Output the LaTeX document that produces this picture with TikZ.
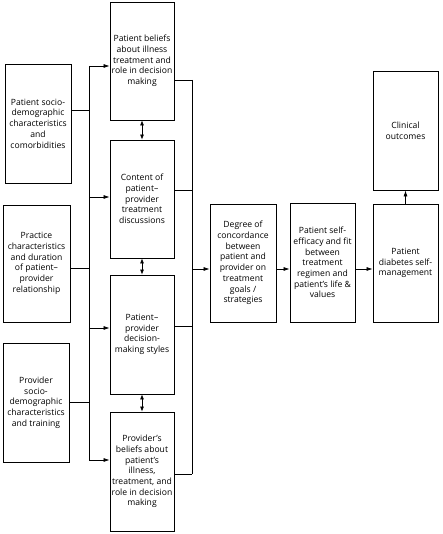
\documentclass[tikz,border=0pt]{standalone}
\usepackage{fontspec}
\setmainfont{Open Sans}
\usetikzlibrary{arrows.meta}

\begin{document}
\begin{tikzpicture}[x=1pt,y=-1pt,
	box/.style={draw,line width=0.8pt,align=center,inner sep=0pt,minimum width=65pt,minimum height=118pt,font=\fontsize{8.6}{10.7}\selectfont},
	wire/.style={line width=0.7pt},
	arr/.style={wire,-{Latex[length=6pt,width=4pt]}},
	darr/.style={wire,{Latex[length=5pt,width=4pt]}-{Latex[length=5pt,width=4pt]}}]
	\useasboundingbox (0,0) rectangle (442,534);
	\node[box,minimum width=66pt,minimum height=119pt] (L1) at (38,123.5) {Patient socio-\\demographic\\characteristics\\and\\comorbidities};
	\node[box,minimum width=67pt,minimum height=117pt] (L2) at (36.5,263.5) {Practice\\characteristics\\and duration\\of patient–\\provider\\relationship};
	\node[box,minimum width=66pt,minimum height=119pt] (L3) at (36,402.5) {Provider\\socio-\\demographic\\characteristics\\and training};
	\node[box,minimum width=64pt] (M1) at (142,61) {Patient beliefs\\about illness\\treatment and\\role in decision\\making};
	\node[box,minimum width=64pt] (M2) at (142,199) {Content of\\patient–\\provider\\treatment\\discussions};
	\node[box,minimum width=64pt,minimum height=119pt] (M3) at (142,334.5) {Patient–\\provider\\decision-\\making styles};
	\node[box,minimum width=64pt,minimum height=119pt] (M4) at (142,471.5) {Provider’s\\beliefs about\\patient’s\\illness,\\treatment, and\\role in decision\\making};
	\node[box,minimum width=66pt] (C1) at (243,263) {Degree of\\concordance\\between\\patient and\\provider on\\treatment\\goals /\\strategies};
	\node[box,minimum height=119pt] (C2) at (322.5,262.5) {Patient self-\\efficacy and fit\\between\\treatment\\regimen and\\patient’s life \&\\values};
	\node[box] (C3) at (405.5,263) {Patient\\diabetes self-\\management};
	\node[box,minimum height=119pt] (C4) at (405.5,130.5) {Clinical\\outcomes};
	\coordinate (b1) at (89,66);
	\coordinate (b2) at (89,197);
	\coordinate (b3) at (89,328);
	\coordinate (b4) at (89,460);
	\coordinate (r1) at (192,80);
	\coordinate (r2) at (192,190);
	\coordinate (r3) at (192,326);
	\coordinate (r4) at (192,474);
	\coordinate (rc) at (192,269);
	\draw[wire] (L1.east |- 0,110) -- (b1 |- 0,110);
	\draw[wire] (L2.east |- 0,268) -- (b1 |- 0,268);
	\draw[wire] (L3.east |- 0,402) -- (b1 |- 0,402);
	\draw[wire] (b1) -- (b4);
	\draw[arr] (b1) -- (b1 -| M1.west);
	\draw[arr] (b2) -- (b2 -| M2.west);
	\draw[arr] (b3) -- (b3 -| M3.west);
	\draw[arr] (b4) -- (b4 -| M4.west);
	\draw[darr] (M1.south) -- (M2.north);
	\draw[darr] (M2.south) -- (M3.north);
	\draw[darr] (M3.south) -- (M4.north);
	\draw[wire] (r1 -| M1.east) -- (r1);
	\draw[wire] (r2 -| M2.east) -- (r2);
	\draw[wire] (r3 -| M3.east) -- (r3);
	\draw[wire] (r4 -| M4.east) -- (r4);
	\draw[wire] (r1) -- (r4);
	\draw[arr] (rc) -- (rc -| C1.west);
	\draw[arr] (rc -| C1.east) -- (rc -| C2.west);
	\draw[arr] (rc -| C2.east) -- (rc -| C3.west);
	\draw[arr] (C3.north) -- (C4.south);
\end{tikzpicture}
\end{document}
